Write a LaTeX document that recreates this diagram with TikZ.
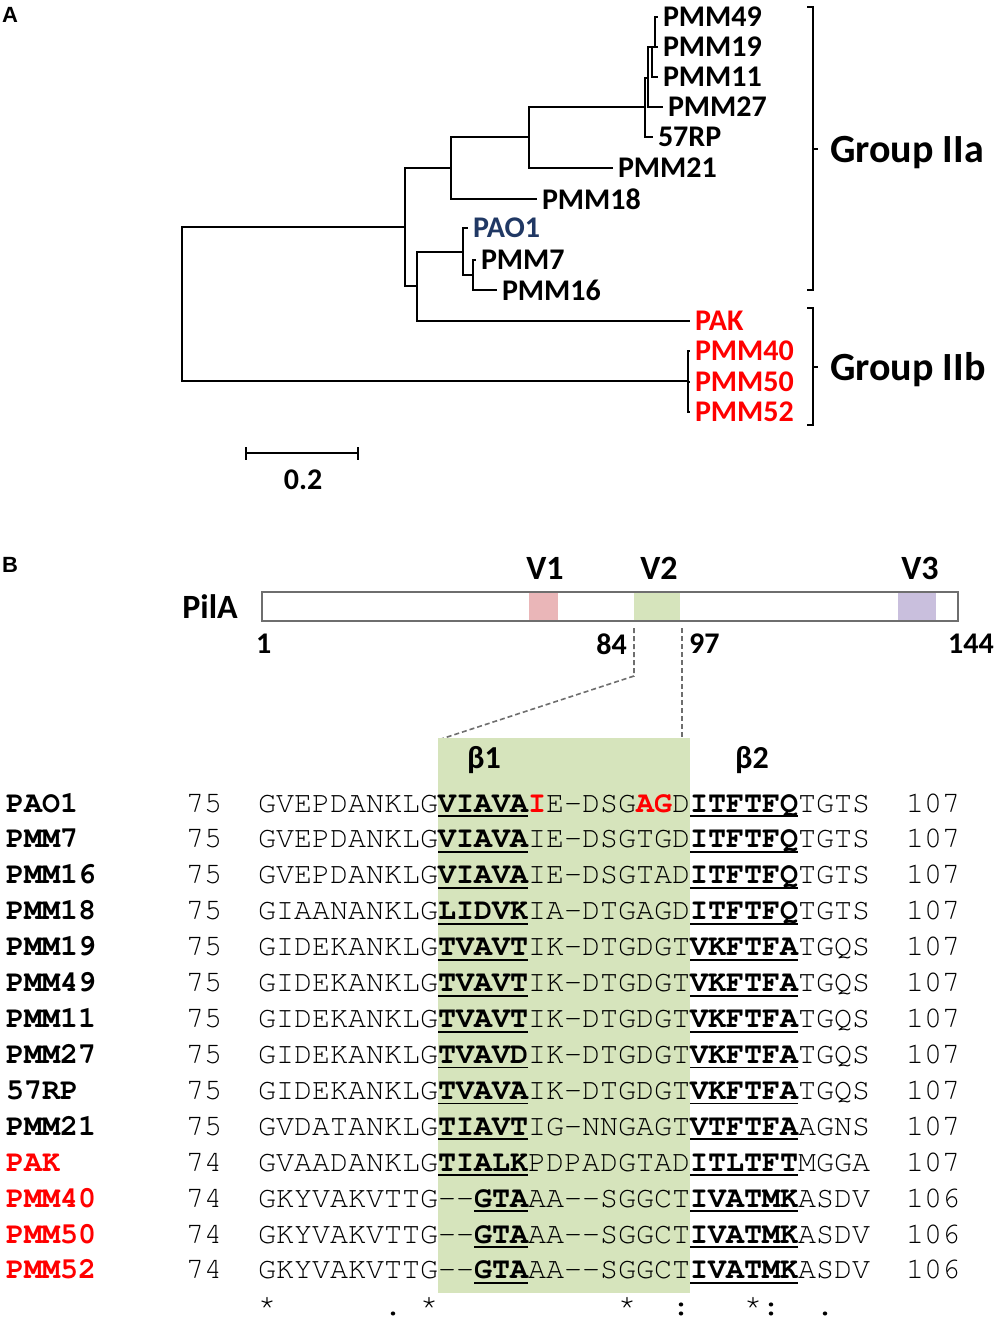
\documentclass[tikz,border=0pt]{standalone}
\usepackage{fontspec}
\setmainfont{Carlito}
\newfontfamily\seqfont{texgyrecursor}[Extension=.otf, UprightFont=*-regular, BoldFont=*-bold]
\newfontfamily\panelfont{Liberation Sans}
\definecolor{treeblue}{RGB}{32,56,100}
\definecolor{grpred}{RGB}{255,0,0}
\definecolor{vonepink}{RGB}{234,182,184}
\definecolor{vtwogreen}{RGB}{214,228,188}
\definecolor{vthreelilac}{RGB}{201,191,221}
\definecolor{bargray}{RGB}{110,110,110}
\definecolor{boxgreen}{RGB}{214,228,188}
\newcommand{\ulres}[1]{\setbox0\hbox{\bfseries #1}\rlap{\rule[-5pt]{\wd0}{1.8pt}}\box0}
\newcommand{\redres}[1]{\textcolor{grpred}{\bfseries #1}}
\tikzset{%
  branch/.style={line width=2pt},%
  leaf/.style={anchor=west, inner sep=4pt, font=\bfseries\fontsize{30}{30}\selectfont},%
  grouplabel/.style={anchor=base west, inner sep=0pt, font=\bfseries\fontsize{40}{40}\selectfont},%
  bracket/.style={line width=2pt},%
  barlabel/.style={inner sep=0pt, font=\bfseries\fontsize{34}{34}\selectfont},%
  posnum/.style={inner sep=0pt, font=\bfseries\fontsize{30}{30}\selectfont},%
  zoomline/.style={bargray, line width=1.6pt, dash pattern=on 5pt off 3pt},%
  seqname/.style={anchor=base west, inner sep=0pt, font=\seqfont\bfseries\fontsize{30}{36}\selectfont},%
  seqtxt/.style={anchor=base west, inner sep=0pt, font=\seqfont\fontsize{30}{36}\selectfont},%
  panel/.style={inner sep=0pt, font=\panelfont\bfseries\fontsize{22}{22}\selectfont}%
}
\begin{document}
\begin{tikzpicture}[x=1pt,y=-1pt]
  \useasboundingbox (0,0) rectangle (1000,1320);%
  \node[panel] (panelA) at (10,15) {A};%
  \node[panel] (panelB) at (10,565) {B};%
  %
  % tree
  \begin{scope}[branch]
    \coordinate (r) at (182,304);%
    \coordinate (a) at (405,227);%
    \coordinate (b) at (451,168);%
    \coordinate (c) at (417,286);%
    \coordinate (d) at (529,137);%
    \coordinate (e) at (645,107);%
    \coordinate (f) at (648,78);%
    \coordinate (g) at (652,47);%
    \coordinate (h) at (655,47);%
    \coordinate (i) at (463,252);%
    \coordinate (j) at (473,275);%
    \coordinate (k) at (688,381);%
    \node[leaf] (pmm49) at (658,17) {PMM49};%
    \node[leaf] (pmm19) at (658,47) {PMM19};%
    \node[leaf] (pmm11) at (658,77) {PMM11};%
    \node[leaf] (pmm27) at (663,107) {PMM27};%
    \node[leaf] (rp57) at (653,137) {57RP};%
    \node[leaf] (pmm21) at (613,168) {PMM21};%
    \node[leaf] (pmm18) at (537,199) {PMM18};%
    \node[leaf, text=treeblue] (pao1) at (468,228) {PAO1};%
    \node[leaf] (pmm7) at (476,260) {PMM7};%
    \node[leaf] (pmm16) at (497,290) {PMM16};%
    \node[leaf, text=grpred] (pak) at (690,321) {PAK};%
    \node[leaf, text=grpred] (pmm40) at (690,351) {PMM40};%
    \node[leaf, text=grpred] (pmm50) at (690,382) {PMM50};%
    \node[leaf, text=grpred] (pmm52) at (690,412) {PMM52};%
    \draw (r) |- (a);%
    \draw (r) |- (k);%
    \draw (a) |- (b);%
    \draw (a) |- (c);%
    \draw (b) |- (d);%
    \draw (b) |- (pmm18.west);%
    \draw (d) |- (e);%
    \draw (d) |- (pmm21.west);%
    \draw (e) |- (f);%
    \draw (e) |- (rp57.west);%
    \draw (f) |- (g);%
    \draw (f) |- (pmm27.west);%
    \draw (g) |- (h);%
    \draw (g) |- (pmm11.west);%
    \draw (h) |- (pmm49.west);%
    \draw (h) |- (pmm19.west);%
    \draw (c) |- (i);%
    \draw (c) |- (pak.west);%
    \draw (i) |- (pao1.west);%
    \draw (i) |- (j);%
    \draw (j) |- (pmm7.west);%
    \draw (j) |- (pmm16.west);%
    \foreach \l in {pmm40,pmm50,pmm52}%
    \draw (k) |- (\l.west);%
  \end{scope}
  %
  % groups
  \draw[bracket] (807,7) -- (813,7) -- (813,290) -- (807,290);%
  \draw[bracket] (813,149) -- (818,149);%
  \node[grouplabel] (grpIIa) at (830,162) {Group IIa};%
  \draw[bracket] (807,308) -- (813,308) -- (813,425) -- (807,425);%
  \draw[bracket] (813,367) -- (818,367);%
  \node[grouplabel] (grpIIb) at (830,380) {Group IIb};%
  %
  % scale bar
  \draw[line width=2.5pt] (246,453) -- (358,453);%
  \draw[line width=2pt] (246,447) -- (246,460) (358,447) -- (358,460);%
  \node[posnum] (scale) at (303,480) {0.2};%
  %
  % PilA bar
  \fill[vonepink] (529,592) rectangle (558,621);%
  \fill[vtwogreen] (634,592) rectangle (680,621);%
  \fill[vthreelilac] (898,592) rectangle (936,621);%
  \draw[bargray, line width=2pt] (262,592) rectangle (958,621);%
  \node[barlabel, anchor=east] (pila) at (238,607) {PilA};%
  \node[barlabel] (v1) at (545,568) {V1};%
  \node[barlabel] (v2) at (659,568) {V2};%
  \node[barlabel] (v3) at (920,568) {V3};%
  \node[posnum, anchor=west] (p1) at (256,644) {1};%
  \node[posnum, anchor=east] (p84) at (627,644) {84};%
  \node[posnum, anchor=west] (p97) at (689,644) {97};%
  \node[posnum, anchor=west] (p144) at (948,644) {144};%
  \coordinate (z1) at (634,628);%
  \coordinate (z2) at (634,676);%
  \coordinate (z3) at (438,740);%
  \coordinate (z4) at (682,628);%
  \coordinate (z5) at (682,740);%
  \draw[zoomline] (z1) -- (z2) -- (z3);%
  \draw[zoomline] (z4) -- (z5);%
  %
  % alignment
  \fill[boxgreen] (438,738) rectangle (690,1293);%
  \node[posnum, anchor=base, font=\bfseries\fontsize{32}{32}\selectfont] (beta1) at (484,768) {β1};%
  \node[posnum, anchor=base, font=\bfseries\fontsize{32}{32}\selectfont] (beta2) at (752,768) {β2};%
  \foreach \n/\nm/\cl/\st/\sq/\en in {%
    1/PAO1/black/75/{GVEPDANKLG\ulres{VIAVA}\redres{I}E-DSG\redres{AG}D\ulres{ITFTFQ}TGTS}/107,%
    2/PMM7/black/75/{GVEPDANKLG\ulres{VIAVA}IE-DSGTGD\ulres{ITFTFQ}TGTS}/107,%
    3/PMM16/black/75/{GVEPDANKLG\ulres{VIAVA}IE-DSGTAD\ulres{ITFTFQ}TGTS}/107,%
    4/PMM18/black/75/{GIAANANKLG\ulres{LIDVK}IA-DTGAGD\ulres{ITFTFQ}TGTS}/107,%
    5/PMM19/black/75/{GIDEKANKLG\ulres{TVAVT}IK-DTGDGT\ulres{VKFTFA}TGQS}/107,%
    6/PMM49/black/75/{GIDEKANKLG\ulres{TVAVT}IK-DTGDGT\ulres{VKFTFA}TGQS}/107,%
    7/PMM11/black/75/{GIDEKANKLG\ulres{TVAVT}IK-DTGDGT\ulres{VKFTFA}TGQS}/107,%
    8/PMM27/black/75/{GIDEKANKLG\ulres{TVAVD}IK-DTGDGT\ulres{VKFTFA}TGQS}/107,%
    9/57RP/black/75/{GIDEKANKLG\ulres{TVAVA}IK-DTGDGT\ulres{VKFTFA}TGQS}/107,%
    10/PMM21/black/75/{GVDATANKLG\ulres{TIAVT}IG-NNGAGT\ulres{VTFTFA}AGNS}/107,%
    11/PAK/grpred/74/{GVAADANKLG\ulres{TIALK}PDPADGTAD\ulres{ITLTFT}MGGA}/107,%
    12/PMM40/grpred/74/{GKYVAKVTTG--\ulres{GTA}AA--SGGCT\ulres{IVATMK}ASDV}/106,%
    13/PMM50/grpred/74/{GKYVAKVTTG--\ulres{GTA}AA--SGGCT\ulres{IVATMK}ASDV}/106,%
    14/PMM52/grpred/74/{GKYVAKVTTG--\ulres{GTA}AA--SGGCT\ulres{IVATMK}ASDV}/106%
  }{%
    \pgfmathsetmacro{\y}{812+35.92*(\n-1)}%
    \node[seqname, text=\cl] (nm\n) at (6,\y) {\nm};%
    \node[seqtxt] (st\n) at (186,\y) {\st};%
    \node[seqtxt] (sq\n) at (258,\y) {\sq};%
    \node[seqtxt] (en\n) at (906,\y) {\en};%
  }%
  \foreach \c/\m in {0/*,7/.,9/*,20/*,23/:,27/*,28/:,31/.}%
  \node[seqtxt] (cons\c) at (258+18*\c,1315) {\m};%
\end{tikzpicture}
\end{document}
